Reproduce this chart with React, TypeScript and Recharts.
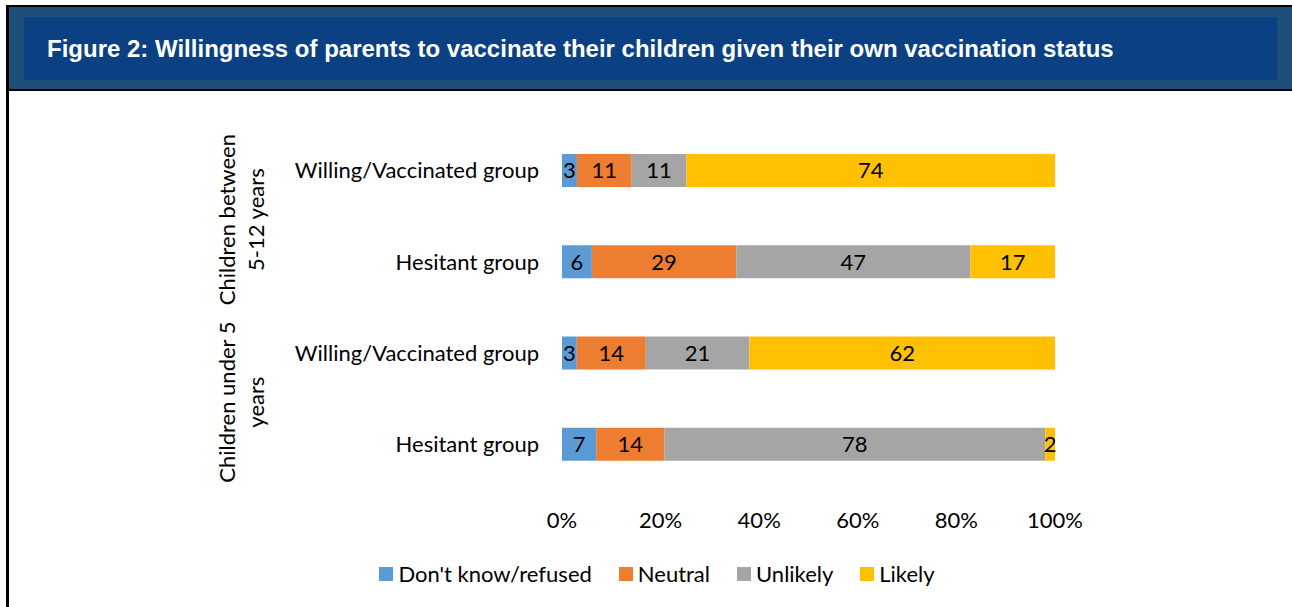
import { BarChart, Bar, XAxis, YAxis, Legend, LabelList } from 'recharts'

const categories = ['Willing/Vaccinated group', 'Hesitant group', 'Willing/Vaccinated group', 'Hesitant group']
const groups = [['Children between', '5-12 years'], ['Children under 5', 'years']]
const dontKnow = [3, 6, 3, 7]
const neutral = [11, 29, 14, 14]
const unlikely = [11, 47, 21, 78]
const likely = [74, 17, 62, 2]
const xTicks = [0, 0.2, 0.4, 0.6, 0.8, 1]

const series = [
  { key: 'dontKnow', name: "Don't know/refused", color: '#5B9BD5' },
  { key: 'neutral', name: 'Neutral', color: '#ED7D31' },
  { key: 'unlikely', name: 'Unlikely', color: '#A5A5A5' },
  { key: 'likely', name: 'Likely', color: '#FFC000' },
]

const data = categories.map((c, i) => ({
  id: `${i}`,
  label: c,
  dontKnow: dontKnow[i],
  neutral: neutral[i],
  unlikely: unlikely[i],
  likely: likely[i],
}))

const FONT = 'Lato, "Open Sans", sans-serif'
const FS = 22
const CHART_W = 1292
const CHART_H = 516
const X_H = 30
const MARGIN = { top: 34, right: 237, bottom: 60, left: 0 }
const Y_W = 562
const ROW_H = (CHART_H - MARGIN.top - MARGIN.bottom - X_H) / categories.length

function CategoryTick(props: any) {
  const { y, payload, index } = props
  const label = categories[Number(payload.value)]
  const group = index % 2 === 0 ? groups[index / 2] : null
  return (
    <g>
      <text x={539} y={y} dy="0.35em" textAnchor="end" fontSize={FS} fontFamily={FONT} fill="#000">
        {label}
      </text>
      {group && (
        <text
          transform={`translate(${242}, ${y + ROW_H / 2}) rotate(-90)`}
          textAnchor="middle"
          fontSize={FS}
          fontFamily={FONT}
          fill="#000"
        >
          <tspan x={0} dy="-0.3em">{group[0]}</tspan>
          <tspan x={0} dy="1.3em">{group[1]}</tspan>
        </text>
      )}
    </g>
  )
}

function LegendContent() {
  return (
    <div style={{ display: 'flex', justifyContent: 'center', alignItems: 'center', gap: 27, fontFamily: FONT, fontSize: FS, color: '#000' }}>
      {series.map((s) => (
        <div key={s.key} style={{ display: 'flex', alignItems: 'center' }}>
          <span style={{ display: 'inline-block', width: 14, height: 14, background: s.color, marginRight: 5 }} />
          <span>{s.name}</span>
        </div>
      ))}
    </div>
  )
}

export default function App() {
  return (
    <div style={{ position: 'absolute', left: 0, top: 0, width: 1292, height: 607, background: '#fff', overflow: 'hidden' }}>
      {/* header */}
      <div style={{ position: 'absolute', left: 6, top: 5, right: 0, height: 2, background: '#000' }} />
      <div style={{ position: 'absolute', left: 6, top: 5, width: 3, bottom: 0, background: '#000' }} />
      <div style={{ position: 'absolute', left: 9, top: 7, right: 0, height: 82, background: '#1F4E79' }} />
      <div style={{ position: 'absolute', left: 9, top: 89, right: 0, height: 2, background: '#000' }} />
      <div
        style={{
          position: 'absolute',
          left: 24,
          top: 17,
          width: 1253,
          height: 63,
          background: '#0B4083',
          color: '#fff',
          fontFamily: '"Liberation Sans", Arial, sans-serif',
          fontWeight: 'bold',
          fontSize: 24,
          lineHeight: '63px',
          paddingLeft: 23,
          boxSizing: 'border-box',
          whiteSpace: 'nowrap',
        }}
      >
        Figure 2: Willingness of parents to vaccinate their children given their own vaccination status
      </div>

      <div style={{ position: 'absolute', left: 0, top: 91 }}>
        <BarChart
          width={CHART_W}
          height={CHART_H}
          data={data}
          layout="vertical"
          stackOffset="expand"
          margin={MARGIN}
          barSize={33}
        >
          <XAxis
            type="number"
            domain={[0, 1]}
            ticks={xTicks}
            tickFormatter={(v) => `${Math.round(v * 100)}%`}
            axisLine={false}
            tickLine={false}
            tickSize={0}
            tickMargin={22}
            height={X_H}
            interval={0}
            tick={{ fontSize: FS, fontFamily: FONT, fill: '#000' }}
          />
          <YAxis
            type="category"
            dataKey="id"
            width={Y_W}
            axisLine={false}
            tickLine={false}
            interval={0}
            tick={<CategoryTick />}
          />
          <Legend
            verticalAlign="bottom"
            content={<LegendContent />}
            wrapperStyle={{ left: 357, width: 600, bottom: 20 }}
          />
          {series.map((s) => (
            <Bar key={s.key} dataKey={s.key} name={s.name} stackId="a" fill={s.color} isAnimationActive={false}>
              <LabelList dataKey={s.key} position="center" fill="#000" fontSize={FS} fontFamily={FONT} />
            </Bar>
          ))}
        </BarChart>
      </div>
    </div>
  )
}
